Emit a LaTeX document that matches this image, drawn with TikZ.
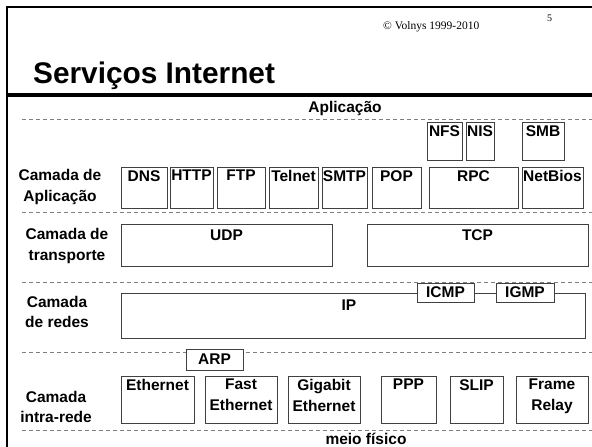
\documentclass[tikz,border=0pt]{standalone}
\usepackage{fontspec}
\setmainfont{Liberation Sans}
\newfontfamily\seriffont{Liberation Serif}
\usetikzlibrary{fit,calc}
\newcommand\labbox[6]{%
  \node[bx, fit={(#2,#3) (#4,#5)}] (#1) {};
  \node[lbl, anchor=north] (#1-t) at ($(#1.north)+(0,3.5)$) {#6};}
\newcommand\midbox[6]{%
  \node[bx, fit={(#2,#3) (#4,#5)}] (#1) {};
  \node[lbl] (#1-t) at (#1.center) {#6};}
\begin{document}
\begin{tikzpicture}[x=1pt,y=-1pt,
  bx/.style={draw=black!75, line width=0.9pt, fill=white, inner sep=0pt},
  lbl/.style={font=\bfseries\fontsize{15.5}{21}\selectfont, inner sep=0pt, align=center},
  sidelbl/.style={font=\bfseries\fontsize{15.5}{20.5}\selectfont, inner sep=0pt, align=center},
  sep/.style={draw=black!50, line width=0.8pt, dash pattern=on 4pt off 3pt},
  frameline/.style={line width=2pt, line cap=rect}]
\useasboundingbox (0,0) rectangle (592,447);
% frame
\coordinate (fa) at (7,447);
\coordinate (fb) at (7,7);
\coordinate (fc) at (592,7);
\draw[frameline] (fa) -- (fb) -- (fc);
\coordinate (ta) at (7,95);
\coordinate (tb) at (592,95);
\draw[line width=3.5pt] (ta) -- (tb);
% header texts
\node[anchor=base west, inner sep=0pt, font=\seriffont\fontsize{11.5}{13}\selectfont] (copy) at (383,29) {\textcopyright{} Volnys 1999-2010};
\node[anchor=base west, inner sep=0pt, font=\seriffont\fontsize{10}{12}\selectfont] (page) at (547,21) {5};
\node[anchor=base west, inner sep=0pt, font=\bfseries\fontsize{29.8}{34}\selectfont] (title) at (33,83) {Serviços Internet};
\node[lbl, anchor=base] (apl) at (345,112) {Aplicação};
% dashed separators
\foreach \i/\y in {1/119,2/212,3/282,4/352,5/430}{
  \coordinate (s\i a) at (22,\y);
  \coordinate (s\i b) at (592,\y);
  \draw[sep] (s\i a) -- (s\i b);
}
% side labels
\node[sidelbl] (l1) at (60,187) {Camada de\\Aplicação};
\node[sidelbl] (l2) at (67,246) {Camada de\\transporte};
\node[sidelbl] (l3) at (57,312) {Camada\\de redes};
\node[sidelbl] (l4) at (56,407) {Camada\\intra-rede};
% application row 1
\labbox{nfs}{427}{122}{462}{160}{NFS}
\labbox{nis}{466}{122}{494}{160}{NIS}
\labbox{smb}{522}{122}{564}{160}{SMB}
% application row 2
\labbox{dns}{121}{167}{167}{208}{DNS}
\labbox{http}{170}{167}{213}{208}{HTTP}
\labbox{ftp}{217}{167}{265}{208}{FTP}
\labbox{telnet}{269}{167}{318}{208}{Telnet}
\labbox{smtp}{322}{167}{367}{208}{SMTP}
\labbox{pop}{372}{167}{421}{208}{POP}
\labbox{rpc}{429}{167}{518}{208}{RPC}
\labbox{netbios}{522}{167}{583}{208}{NetBios}
% transport
\node[bx, fit={(121,224) (332,266)}] (udp) {};
\node[lbl, anchor=north] (udp-t) at ($(udp.north)+(0,6)$) {UDP};
\node[bx, fit={(367,224) (588,266)}] (tcp) {};
\node[lbl, anchor=north] (tcp-t) at ($(tcp.north)+(0,6)$) {TCP};
% network
\node[bx, fit={(121,293) (585,338)}] (ip) {};
\node[lbl, anchor=north] (ip-t) at (349,300) {IP};
\midbox{icmp}{417}{283}{474}{302}{ICMP}
\midbox{igmp}{496}{283}{554}{302}{IGMP}
% link
\midbox{arp}{186}{349}{243}{370}{ARP}
\labbox{eth}{121}{376}{194}{423}{Ethernet}
\labbox{feth}{205}{376}{277}{423}{Fast\\Ethernet}
\labbox{geth}{288}{376}{360}{423}{Gigabit\\Ethernet}
\labbox{ppp}{381}{376}{436}{423}{PPP}
\labbox{slip}{450}{376}{503}{423}{SLIP}
\labbox{fr}{516}{376}{588}{423}{Frame\\Relay}
\node[lbl, anchor=base] (meio) at (366,444) {meio físico};
\end{tikzpicture}
\end{document}
